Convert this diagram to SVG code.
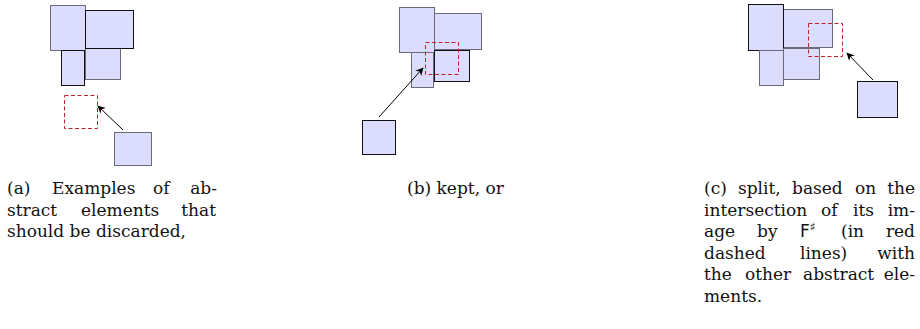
<svg xmlns="http://www.w3.org/2000/svg" width="920" height="329" viewBox="0 0 920 329">
<style>
.b{fill:#dcdcff;stroke:#111;stroke-width:1}
.g{fill:#dcdcff;stroke:#6a6a7a;stroke-width:1}
.r{fill:none;stroke:#c0202a;stroke-width:1;stroke-dasharray:4 2.5}
.a{fill:none;stroke:#000;stroke-width:1;marker-end:url(#ah)}
text{font-family:"DejaVu Serif","Liberation Serif",serif;font-size:17px;fill:#111}
.sf{font-family:"DejaVu Sans","Liberation Sans",sans-serif}
</style>
<defs>
<marker id="ah" viewBox="0 0 10 10" refX="9" refY="5" markerWidth="8" markerHeight="8" markerUnits="userSpaceOnUse" orient="auto">
<path d="M0,0 L10,5 L0,10 L3,5 Z" fill="#000"/>
</marker>
</defs>

<g id="fig-a">
<g id="a-n1"><rect class="g" x="50.5" y="5.5" width="35" height="45"/></g>
<g id="a-n4"><rect class="g" x="85.5" y="48.5" width="35" height="31"/></g>
<g id="a-n2"><rect class="b" x="85.5" y="10.5" width="48" height="38"/></g>
<g id="a-n3"><rect class="b" x="61.5" y="50.5" width="23" height="35"/></g>
<g id="a-img"><rect class="r" x="64.5" y="95.5" width="33" height="33"/></g>
<g id="a-src"><rect class="g" x="114.5" y="132.5" width="37" height="33"/></g>
</g>

<g id="fig-b">
<g id="b-n2"><rect class="g" x="434.5" y="13.5" width="47" height="36"/></g>
<g id="b-n1"><rect class="g" x="399.5" y="7.5" width="35" height="45"/></g>
<g id="b-n3"><rect class="g" x="411.5" y="52.5" width="22" height="35"/></g>
<g id="b-n4"><rect class="b" x="434.5" y="50.5" width="35" height="31"/></g>
<g id="b-img"><rect class="r" x="425.5" y="42.5" width="33" height="32"/></g>
<g id="b-src"><rect class="b" x="362.5" y="120.5" width="33" height="34"/></g>
</g>

<g id="fig-c">
<g id="c-n2"><rect class="g" x="783.5" y="9.5" width="49" height="38"/></g>
<g id="c-n1"><rect class="b" x="748.5" y="4.5" width="35" height="46"/></g>
<g id="c-n3"><rect class="g" x="759.5" y="50.5" width="24" height="35"/></g>
<g id="c-n4"><rect class="g" x="783.5" y="48.5" width="36" height="31"/></g>
<g id="c-img"><rect class="r" x="808.5" y="23.5" width="34" height="33"/></g>
<g id="c-src"><rect class="b" x="857.5" y="81.5" width="40" height="36"/></g>
</g>

<g id="connectors">
<line class="a" x1="123" y1="130" x2="98" y2="106"/>
<line class="a" x1="379" y1="117" x2="423" y2="68"/>
<line class="a" x1="873" y1="80" x2="847" y2="53"/>
</g>

<g id="captions">
<text y="194"><tspan x="7">(a)</tspan><tspan x="52">Examples</tspan><tspan x="153">of</tspan></text>
<text y="194" x="217" text-anchor="end">ab-</text>
<text y="215.5"><tspan x="7">stract</tspan><tspan x="81">elements</tspan></text>
<text y="215.5" x="216" text-anchor="end">that</text>
<text y="237" x="7">should be discarded,</text>

<text y="194" x="407">(b) kept, or</text>

<text y="194"><tspan x="704">(c)</tspan><tspan x="738">split,</tspan><tspan x="792">based</tspan><tspan x="855">on</tspan></text>
<text y="194" x="915" text-anchor="end">the</text>
<text y="215.5"><tspan x="704">intersection</tspan><tspan x="821">of</tspan><tspan x="853">its</tspan></text>
<text y="215.5" x="915" text-anchor="end">im-</text>
<text y="237"><tspan x="704">age</tspan><tspan x="757">by</tspan><tspan x="800" class="sf">F</tspan><tspan class="sf" font-size="12" dy="-6">♯</tspan><tspan x="841" dy="6">(in</tspan></text>
<text y="237" x="915" text-anchor="end">red</text>
<text y="258.5"><tspan x="704">dashed</tspan><tspan x="800">lines)</tspan></text>
<text y="258.5" x="915" text-anchor="end">with</text>
<text y="280"><tspan x="704">the</tspan><tspan x="745">other</tspan><tspan x="803">abstract</tspan></text>
<text y="280" x="915" text-anchor="end">ele-</text>
<text y="301.5" x="704">ments.</text>
</g>
</svg>
